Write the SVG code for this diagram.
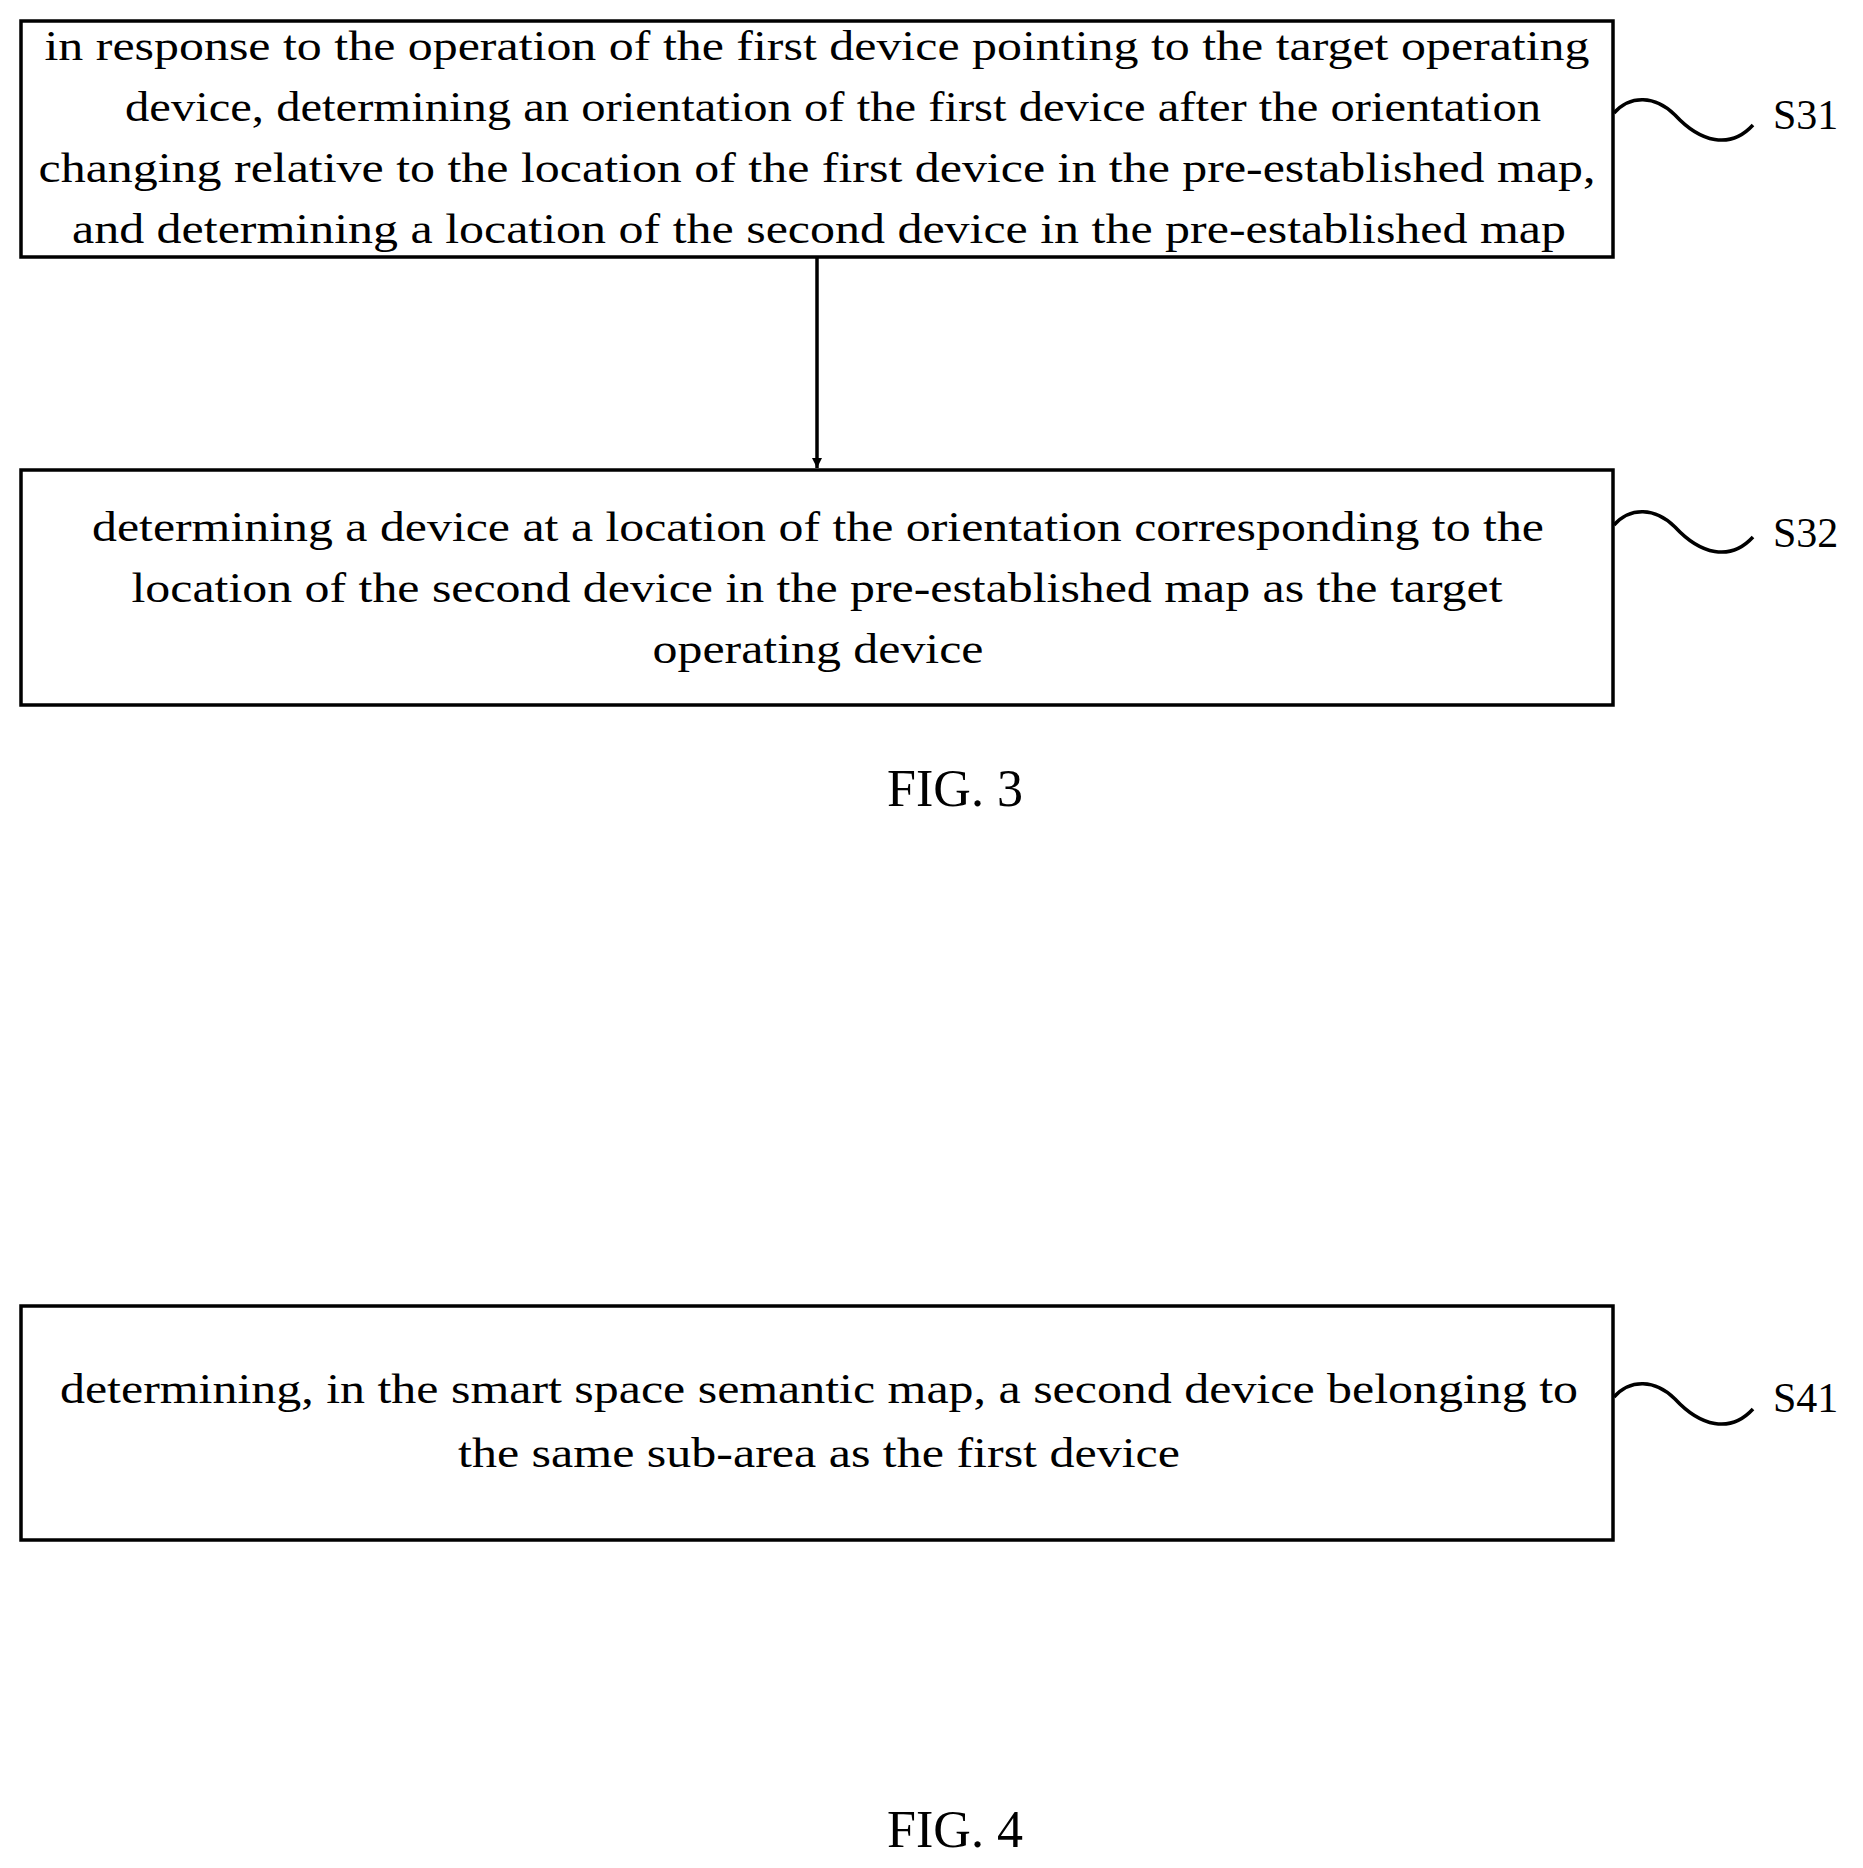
<svg xmlns="http://www.w3.org/2000/svg" width="1863" height="1868" viewBox="0 0 1863 1868">
<style>
.box{fill:#fff;stroke:#000;stroke-width:3.5}
.t{font-family:"Liberation Serif",serif;font-size:42px;fill:#000;text-anchor:middle}
.lab{font-family:"Liberation Serif",serif;font-size:42px;fill:#000}
.fig{font-family:"Liberation Serif",serif;font-size:52px;fill:#000;text-anchor:middle}
.sq{fill:none;stroke:#000;stroke-width:3.5}
</style>
<defs><marker id="ah" markerWidth="10" markerHeight="10" refX="10" refY="5" orient="auto" markerUnits="userSpaceOnUse" viewBox="0 0 10 10"><path d="M0,0 L10,5 L0,10 z" fill="#000"/></marker></defs>
<rect width="1863" height="1868" fill="#fff"/>
<g id="S31">
<rect class="box" x="21" y="21" width="1592" height="236"/>
<text class="t" x="817" y="60" textLength="1545" lengthAdjust="spacingAndGlyphs">in response to the operation of the first device pointing to the target operating</text>
<text class="t" x="833" y="121" textLength="1416" lengthAdjust="spacingAndGlyphs">device, determining an orientation of the first device after the orientation</text>
<text class="t" x="817" y="182" textLength="1557" lengthAdjust="spacingAndGlyphs">changing relative to the location of the first device in the pre-established map,</text>
<text class="t" x="819" y="243" textLength="1494" lengthAdjust="spacingAndGlyphs">and determining a location of the second device in the pre-established map</text>
<path class="sq" d="M1614,113 C1630,95 1655,95 1675,115 C1700,142 1730,150 1753,125"/>
<text class="lab" x="1773" y="129">S31</text>
</g>
<g id="S32">
<rect class="box" x="21" y="470" width="1592" height="235"/>
<text class="t" x="818" y="541" textLength="1452" lengthAdjust="spacingAndGlyphs">determining a device at a location of the orientation corresponding to the</text>
<text class="t" x="817" y="602" textLength="1371" lengthAdjust="spacingAndGlyphs">location of the second device in the pre-established map as the target</text>
<text class="t" x="818" y="663" textLength="331" lengthAdjust="spacingAndGlyphs">operating device</text>
<path class="sq" d="M1614,525 C1630,507 1655,507 1675,527 C1700,554 1730,562 1753,537"/>
<text class="lab" x="1773" y="547">S32</text>
</g>
<g id="S41">
<rect class="box" x="21" y="1306" width="1592" height="234"/>
<text class="t" x="819" y="1403" textLength="1518" lengthAdjust="spacingAndGlyphs">determining, in the smart space semantic map, a second device belonging to</text>
<text class="t" x="819" y="1467" textLength="722" lengthAdjust="spacingAndGlyphs">the same sub-area as the first device</text>
<path class="sq" d="M1614,1397 C1630,1379 1655,1379 1675,1399 C1700,1426 1730,1434 1753,1409"/>
<text class="lab" x="1773" y="1412">S41</text>
</g>
<g id="connectors">
<line x1="817" y1="257" x2="817" y2="468" stroke="#000" stroke-width="3.5" marker-end="url(#ah)"/>
</g>
<text class="fig" x="955" y="806">FIG.  3</text>
<text class="fig" x="955" y="1847">FIG.  4</text>
</svg>
